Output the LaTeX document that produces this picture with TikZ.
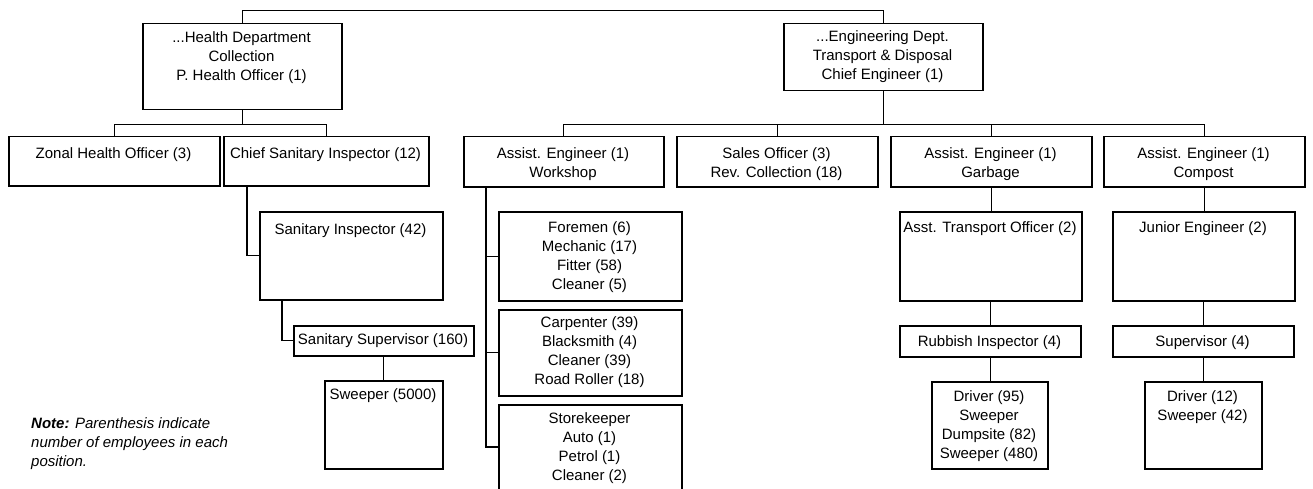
\documentclass[tikz,border=0pt]{standalone}
\usepackage{fontspec}
\setmainfont{Liberation Sans}
\newcommand\fs{\fontsize{15}{19}\selectfont}
\tikzset{
  box/.style={draw, line width=1.5pt, inner sep=0pt, anchor=north west},
  txt/.style={align=center, inner sep=0pt, font=\fs, anchor=north},
  conn/.style={line width=1.4pt},
  thinconn/.style={line width=0.9pt}
}
\newcommand\bx[7]{%
  \node[box, minimum width={#4-#2}, minimum height={#5-#3}] (#1) at (#2,#3) {};
  \node[txt] (#1t) at ({(#2+#4)/2},{#6-8}) {\strut #7};
}
\begin{document}
\begin{tikzpicture}[x=1pt,y=-1pt]
\useasboundingbox (0,0) rectangle (1313,489);
\clip (0,0) rectangle (1313,489);
\fill[white] (0,0) rectangle (1313,489);
\bx{hd}{142}{23}{341}{109}{37}{...Health Department\\Collection\\P. Health Officer (1)}
\bx{eng}{783}{23}{982}{90}{36}{...Engineering Dept.\\Transport \& Disposal\\Chief Engineer (1)}
\bx{zho}{8}{136}{219}{185}{153}{Zonal Health Officer (3)}
\bx{csi}{223}{136}{428}{185}{153}{Chief Sanitary Inspector (12)}
\bx{aew}{463}{136}{663}{186}{153}{Assist. Engineer (1)\\Workshop}
\bx{so}{676}{136}{877}{186}{153}{Sales Officer (3)\\Rev. Collection (18)}
\bx{aeg}{890}{136}{1091}{186}{153}{Assist. Engineer (1)\\Garbage}
\bx{aec}{1103}{136}{1304}{186}{153}{Assist. Engineer (1)\\Compost}
\bx{si}{259}{211}{442}{299}{229}{Sanitary Inspector (42)}
\bx{ss}{293}{325}{473}{355}{339}{Sanitary Supervisor (160)}
\bx{sw}{324}{380}{442}{468}{394}{Sweeper (5000)}
\bx{fm}{498}{211}{681}{300}{227}{Foremen (6)\\Mechanic (17)\\Fitter (58)\\Cleaner (5)}
\bx{cp}{498}{309}{681}{395}{322}{Carpenter (39)\\Blacksmith (4)\\Cleaner (39)\\Road Roller (18)}
\bx{sk}{498}{404}{681}{500}{418}{Storekeeper\\Auto (1)\\Petrol (1)\\Cleaner (2)}
\bx{ato}{899}{211}{1081}{300}{227}{Asst. Transport Officer (2)}
\bx{je}{1112}{211}{1294}{300}{227}{Junior Engineer (2)}
\bx{ri}{899}{325}{1080}{356}{341}{Rubbish Inspector (4)}
\bx{sup}{1112}{325}{1293}{356}{341}{Supervisor (4)}
\bx{dra}{931}{381}{1047}{468}{396}{Driver (95)\\Sweeper\\Dumpsite (82)\\Sweeper (480)}
\bx{drb}{1144}{381}{1261}{468}{396}{Driver (12)\\Sweeper (42)}
\node[anchor=north west, align=left, inner sep=0pt, font=\fs\itshape] (note) at (31,415)
  {\strut\textbf{Note:} Parenthesis indicate\\number of employees in each\\position.};
% top link
\draw[thinconn] (hd.north) -- ([yshift=13pt]hd.north) -| (eng.north);
% health
\draw[conn] (hd.south) -- ++(0,14) coordinate (hj);
\draw[conn] (zho.north) |- (hj) -| (csi.north);
\draw[conn] ([xshift=24pt]csi.south west) |- (si.west);
\draw[conn] ([xshift=23pt]si.south west) |- (ss.west);
\draw[conn] (ss.south) -- (sw.north);
% engineering
\draw[conn] (eng.south) -- ++(0,33) coordinate (ej);
\draw[conn] (aew.north) |- (ej) -| (aec.north);
\draw[conn] (so.north) -- (so.north |- ej);
\draw[conn] (aeg.north) -- (aeg.north |- ej);
% workshop
\coordinate (wv) at ([xshift=23pt]aew.south west);
\draw[conn] (wv) |- ([yshift=-43pt]sk.north west);
\draw[conn] (fm.west) -- (fm.west -| wv);
\draw[conn] (cp.west) -- (cp.west -| wv);
% garbage
\draw[conn] (aeg.south) -- (aeg.south |- ato.north);
\draw[conn] (ato.south) -- (ato.south |- ri.north);
\draw[conn] (ri.south) -- (ri.south |- dra.north);
% compost
\draw[conn] (aec.south) -- (aec.south |- je.north);
\draw[conn] (je.south) -- (je.south |- sup.north);
\draw[conn] (sup.south) -- (sup.south |- drb.north);
\end{tikzpicture}
\end{document}
